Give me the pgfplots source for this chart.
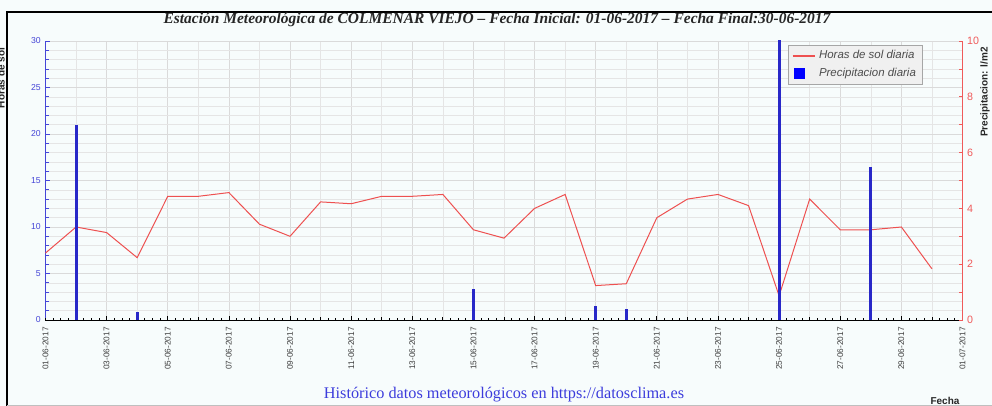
\documentclass[border=0pt]{standalone}
\usepackage{pgfplots}
\pgfplotsset{compat=1.18}
\usepackage{pgfplotstable}
\usepackage{fontspec}
\setmainfont{Liberation Serif}
\setsansfont{Liberation Sans}
\definecolor{bgc}{RGB}{247,252,252}
\definecolor{axblue}{RGB}{70,70,215}
\definecolor{axred}{RGB}{240,90,90}
\definecolor{linered}{RGB}{238,80,80}
\definecolor{barblue}{RGB}{40,40,200}
\definecolor{gridc}{RGB}{218,218,218}
\definecolor{footblue}{RGB}{60,60,220}

\pgfplotstableread{
day sol
1 7.2
2 10.0
3 9.4
4 6.7
5 13.3
6 13.3
7 13.7
8 10.3
9 9.0
10 12.7
11 12.5
12 13.3
13 13.3
14 13.5
15 9.7
16 8.8
17 12.0
18 13.5
19 3.7
20 3.9
21 11.0
22 13.0
23 13.5
24 12.3
25 2.6
26 13.0
27 9.7
28 9.7
29 10.0
30 5.5
}\soltable

\pgfplotstableread{
day prec
2 7.0
4 0.27
15 1.1
19 0.5
20 0.4
25 12.0
28 5.5
}\prectable

\begin{document}
\begin{tikzpicture}
\useasboundingbox (0,0) rectangle (744pt,304.5pt);
\fill[bgc] (0,0) rectangle (744pt,304.5pt);
\draw[black, line width=1.2pt] (5.25pt,-2pt) -- (5.25pt,295.5pt) -- (750pt,295.5pt);
\draw[gray!50, line width=0.5pt] (5.25pt,0.3pt) -- (750pt,0.3pt);

\begin{axis}[
  at={(34.125pt,64.5pt)}, anchor=south west,
  width=687.75pt, height=209.25pt, scale only axis,
  xmin=1, xmax=31, ymin=0, ymax=30,
  /pgf/number format/assume math mode=true,
  axis x line*=bottom, axis y line*=left,
  axis line style={-},
  x axis line style={black, line width=0.6pt},
  y axis line style={axblue, line width=0.8pt},
  tick align=inside,
  xtick={1,3,...,31},
  xticklabels={01-06-2017,03-06-2017,05-06-2017,07-06-2017,09-06-2017,11-06-2017,13-06-2017,15-06-2017,17-06-2017,19-06-2017,21-06-2017,23-06-2017,25-06-2017,27-06-2017,29-06-2017,01-07-2017},
  minor xtick={2,4,...,30},
  x tick style={black, line width=0.6pt},
  x tick label style={rotate=90, anchor=east, font=\sffamily\fontsize{6.2}{7}\selectfont, text=black!75, xshift=-2pt},
  extra x ticks={1,1.25,...,31},
  extra x tick labels={},
  extra x tick style={grid=none, major tick length=1.6pt, tick style={black, line width=0.5pt}},
  major tick length=3pt, minor tick length=2.4pt,
  ytick={0,5,...,30},
  minor y tick num=4,
  y tick style={axblue, line width=0.5pt},
  y tick label style={text=axblue, font=\sffamily\fontsize{6.5}{7}\selectfont},
  xmajorgrids, xminorgrids, ymajorgrids, yminorgrids,
  major grid style={gridc, line width=0.5pt},
  minor grid style={gridc!70, line width=0.4pt},
]
\addplot[linered, line width=0.75pt] table[x=day, y=sol] {\soltable};
\end{axis}

\begin{axis}[
  at={(34.125pt,64.5pt)}, anchor=south west,
  width=687.75pt, height=209.25pt, scale only axis,
  xmin=1, xmax=31, ymin=0, ymax=10,
  /pgf/number format/assume math mode=true,
  axis y line*=right, axis x line=none,
  axis line style={-},
  y axis line style={axred, line width=0.8pt},
  tick align=inside,
  ytick={0,2,...,10},
  minor ytick={1,3,...,9},
  major tick length=3pt, minor tick length=3pt,
  y tick style={axred, line width=0.5pt},
  y tick label style={text=axred, font=\sffamily\fontsize{8}{9}\selectfont},
  legend style={at={(0.8097,0.986)}, anchor=north west, fill=black!6, draw=black!35,
    font=\sffamily\itshape\fontsize{8.6}{9.5}\selectfont, text=black!70,
    inner xsep=2.5pt, inner ysep=2pt, row sep=1.5pt},
  legend cell align=left,
]
\addlegendimage{linered, line width=1.5pt}
\addlegendentry{Horas de sol diaria}
\addplot[ycomb, barblue, line width=2.2pt,
  legend image code/.code={\fill[blue] (0.08cm,-0.11cm) rectangle (0.3cm,0.11cm);}]
  table[x=day, y=prec] {\prectable};
\addlegendentry{Precipitacion diaria}
\end{axis}

\begin{scope}[x=0.75pt, y=0.75pt]
\node[font=\bfseries\itshape\fontsize{11.6}{13}\selectfont, text=black!85] at (497,386) {Estación Meteorológica de COLMENAR VIEJO -- Fecha Inicial: 01-06-2017 -- Fecha Final:30-06-2017};
\node[font=\fontsize{12.2}{14}\selectfont, text=footblue] at (504,11) {Histórico datos meteorológicos en https://datosclima.es};
\node[font=\sffamily\bfseries\fontsize{7.5}{9}\selectfont, text=black!85] at (945,5) {Fecha};
\node[rotate=90, font=\sffamily\bfseries\fontsize{7.5}{9}\selectfont, text=black!85] at (985,314) {Precipitacion: l/m2};
\node[rotate=90, font=\sffamily\bfseries\fontsize{7.5}{9}\selectfont, text=black!85] at (1,328) {Horas de sol};
\end{scope}
\end{tikzpicture}
\end{document}
